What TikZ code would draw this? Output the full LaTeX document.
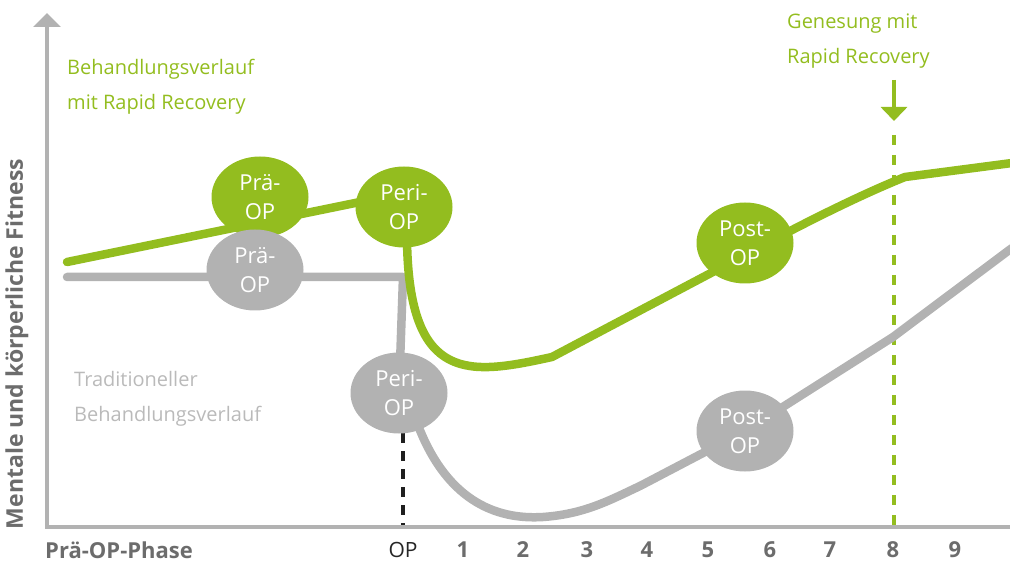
\documentclass[tikz,border=0pt]{standalone}
\usepackage{fontspec}
\setmainfont{Open Sans}
\usepackage{tikz}
\usetikzlibrary{positioning,arrows.meta,shapes.geometric,backgrounds}
\definecolor{rrgreen}{RGB}{147,189,31}
\definecolor{tradgray}{RGB}{178,178,178}
\definecolor{labelgray}{RGB}{108,108,108}
\definecolor{textgray}{RGB}{186,186,186}

\begin{document}
\begin{tikzpicture}[
x=1pt, y=-1pt,
Phase/.style={ellipse, minimum width=97pt, minimum height=81pt, inner sep=0pt, align=center, text=white, font=\fontsize{22}{29}\selectfont},
GreenPhase/.style={Phase, fill=rrgreen},
GrayPhase/.style={Phase, fill=tradgray},
Course/.style={line width=8.5pt, line cap=round, line join=round},
AxisLine/.style={tradgray, line width=4pt, line join=miter},
Caption/.style={align=left, anchor=west, inner sep=0pt, font=\fontsize{20}{35}\selectfont},
TickLabel/.style={font=\fontsize{22}{24}\selectfont\bfseries, text=labelgray}
]
\useasboundingbox (0,0) rectangle (1010,564);

% the phases, green = Rapid Recovery, gray = traditionell
\node[GreenPhase] (gpre)  at (260,197) {Prä-\\OP};
\node[GreenPhase] (gperi) at (404,207) {Peri-\\OP};
\node[GreenPhase] (gpost) at (745,243) {Post-\\OP};
\node[GrayPhase]  (tpre)  at (255,270) {Prä-\\OP};
\node[GrayPhase]  (tperi) at (399,393) {Peri-\\OP};
\node[GrayPhase]  (tpost) at (745,431) {Post-\\OP};

\begin{pgfonlayer}{background}
% axes
\draw[AxisLine, {Triangle[length=14pt, width=27pt]}-] (47,13) -- (47,527) -- (1012,527);

% OP day and day of recovery
\draw[black!88, line width=4pt, dash pattern=on 10pt off 8pt] (403,433) -- (403,525);
\draw[rrgreen, line width=4pt, dash pattern=on 10pt off 10pt] (894,135) -- (894,525);

% traditional course
\draw[Course, tradgray] (67,277) -- (403,277) -- (tperi.center);
\draw[Course, tradgray] (tperi.center) -- (416,420) .. controls (445,500) and (495,520) .. (543,517)
  .. controls (585,514) and (610,500) .. (640,486) -- (tpost.center) -- (893,337) -- (1012,248);

% course with Rapid Recovery
\draw[Course, rrgreen] (67,262) -- (404,193);
\draw[Course, rrgreen] (407,240) .. controls (409,385) and (470,375) .. (552,357) -- (745,255)
  .. controls (800,225) and (860,195) .. (905,177) -- (1012,163);
\end{pgfonlayer}

\draw[rrgreen, line width=4pt, -{Triangle[length=14pt, width=26pt]}] (894,80) -- (894,121);

% texts
\node[Caption, text=rrgreen] (rrlabel) at (67,87) {Behandlungsverlauf\\mit Rapid Recovery};
\node[Caption, text=textgray] (tradlabel) at (74,399) {Traditioneller\\Behandlungsverlauf};
\node[Caption, text=rrgreen] (recovery) at (787,41) {Genesung mit\\Rapid Recovery};

\node[rotate=90, font=\fontsize{23}{24}\selectfont\bfseries, text=labelgray] (fitness) at (17,344) {Mentale und körperliche Fitness};
\node[TickLabel, anchor=west, inner sep=0pt] (prephase) at (45,550) {Prä-OP-Phase};
\node[font=\fontsize{21}{24}\selectfont, text=black!85] (optick) at (403,550) {OP};
\foreach \n/\xx in {1/463, 2/523, 3/587, 4/647, 5/708, 6/770, 7/830, 8/893, 9/955}
  \node[TickLabel] (day\n) at (\xx,550) {\n};

\end{tikzpicture}
\end{document}
